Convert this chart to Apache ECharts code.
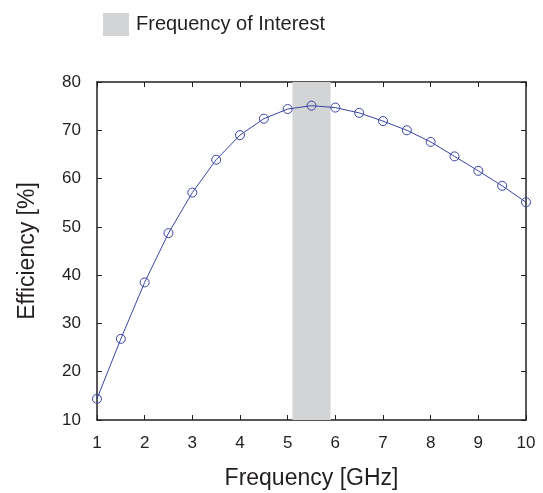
<!DOCTYPE html>
<html>
<head>
<meta charset="utf-8">
<script src="https://cdn.jsdelivr.net/npm/echarts@6/dist/echarts.min.js"></script>
<style>html,body{margin:0;padding:0;background:#fff;}#chart{width:543px;height:493px;}</style>
</head>
<body>
<div id="chart"></div>
<script>
const frequencies = [1, 1.5, 2, 2.5, 3, 3.5, 4, 4.5, 5, 5.5, 6, 6.5, 7, 7.5, 8, 8.5, 9, 9.5, 10];
const efficiency = [14.4, 26.8, 38.5, 48.7, 57.1, 63.9, 69.0, 72.4, 74.4, 75.1, 74.7, 73.6, 71.9, 70.0, 67.6, 64.6, 61.6, 58.5, 55.1];
const bandOfInterest = [5.1, 5.9];
const xTicks = [1, 2, 3, 4, 5, 6, 7, 8, 9, 10];
const yTicks = [10, 20, 30, 40, 50, 60, 70, 80];
const bandName = 'Frequency of Interest';

const axisColor = '#231f20';
const font = '"Liberation Sans", Arial, sans-serif';
const chart = echarts.init(document.getElementById('chart'), null, {renderer: 'canvas'});

const baseX = {
  type: 'value', min: xTicks[0], max: xTicks[xTicks.length - 1], interval: 1,
  axisLine: {show: true, lineStyle: {color: axisColor, width: 1.5}},
  axisTick: {show: true, inside: true, length: 5, lineStyle: {color: axisColor, width: 1}},
  splitLine: {show: false}
};
const baseY = {
  type: 'value', min: yTicks[0], max: yTicks[yTicks.length - 1], interval: 10,
  axisLine: {show: true, lineStyle: {color: axisColor, width: 1.5}},
  axisTick: {show: true, inside: true, length: 5, lineStyle: {color: axisColor, width: 1}},
  splitLine: {show: false}
};

chart.setOption({
  animation: false,
  backgroundColor: '#fff',
  grid: {left: 97, right: 17, top: 82, bottom: 73, containLabel: false, outerBoundsMode: 'none'},
  legend: {
    left: 98, top: 8, itemWidth: 26, itemHeight: 23,
    data: [{name: bandName, icon: 'rect', itemStyle: {color: '#d3d4d6'}}],
    textStyle: {fontFamily: font, fontSize: 20, color: '#231f20', padding: [0, 0, 0, 2]}
  },
  xAxis: [
    Object.assign({}, baseX, {
      position: 'bottom',
      name: 'Frequency [GHz]', nameLocation: 'middle', nameGap: 47,
      nameTextStyle: {fontFamily: font, fontSize: 23, color: '#231f20'},
      axisLabel: {margin: 15, fontFamily: font, fontSize: 17, color: '#231f20'}
    }),
    Object.assign({}, baseX, {position: 'top', axisLabel: {show: false}})
  ],
  yAxis: [
    Object.assign({}, baseY, {
      position: 'left',
      name: 'Efficiency [%]', nameLocation: 'middle', nameGap: 58,
      nameTextStyle: {fontFamily: font, fontSize: 23, color: '#231f20'},
      axisLabel: {margin: 16, fontFamily: font, fontSize: 17, color: '#231f20'}
    }),
    Object.assign({}, baseY, {position: 'right', axisLabel: {show: false}})
  ],
  series: [
    {
      name: bandName, type: 'line', data: [], z: 1,
      xAxisIndex: 0, yAxisIndex: 0,
      markArea: {
        silent: true,
        itemStyle: {color: '#d3d4d6', opacity: 1},
        data: [[{xAxis: bandOfInterest[0]}, {xAxis: bandOfInterest[1]}]]
      }
    },
    {
      name: 'Efficiency', type: 'line', z: 3,
      xAxisIndex: 0, yAxisIndex: 0,
      data: frequencies.map((f, i) => [f, efficiency[i]]),
      symbol: 'circle', symbolSize: 9, showAllSymbol: true,
      lineStyle: {color: '#3a45a3', width: 1},
      itemStyle: {color: 'rgba(0,0,0,0)', borderColor: '#3a45a3', borderWidth: 1},
      clip: false
    }
  ]
});
</script>
</body>
</html>
